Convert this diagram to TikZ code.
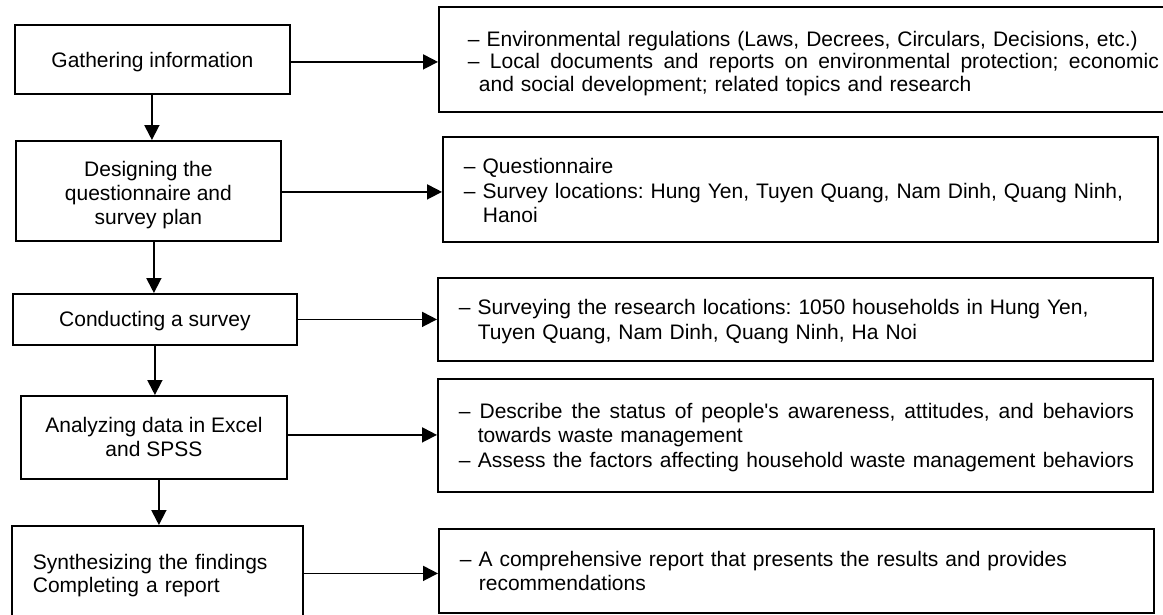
\documentclass[tikz,border=0pt]{standalone}
\usepackage{fontspec}
\setmainfont{Liberation Sans}
\usetikzlibrary{arrows.meta,calc}
\frenchspacing
\newcommand{\lift}[1]{\rule{0pt}{#1}}
\newcommand{\just}[2]{\makebox[#1][s]{\spaceskip=0.278em plus 1fil\relax #2}}
\begin{document}
\begin{tikzpicture}[x=1pt,y=-1pt,
  box/.style={draw, line width=1.8pt, inner sep=0pt, anchor=north west},
  stepbox/.style={box, align=center, font=\fontsize{21}{24}\selectfont\frenchspacing},
  infobox/.style={box, align=left, inner xsep=21pt, text width=673pt,
    minimum width=715pt, font=\fontsize{21}{24.5}\selectfont\frenchspacing},
  arr/.style={line width=1.8pt, -{Triangle[length=15pt,width=15pt]}}
]
\clip (0,0) rectangle (1163,614);
% left column
\node[stepbox, minimum width=275pt, minimum height=69pt] (b1) at (14,24) {\lift{21.3pt}Gathering information};
\node[stepbox, minimum width=265pt, minimum height=100pt] (b2) at (15,140) {\lift{23.3pt}Designing the\\questionnaire and\\survey plan};
\node[stepbox, minimum width=284pt, minimum height=51pt] (b3) at (12,293) {\lift{19.3pt}Conducting a survey};
\node[stepbox, minimum width=266pt, minimum height=83pt] (b4) at (20,395) {Analyzing data in Excel\\and SPSS};
\node[box, align=left, inner xsep=21pt, text width=249pt, minimum height=95pt,
  font=\fontsize{21}{23}\selectfont\frenchspacing] (b5) at (11,525) {\lift{19.3pt}Synthesizing the findings\\Completing a report};
% right column
\node[infobox, inner xsep=29pt, text width=670pt, minimum width=728pt, minimum height=105pt,
  font=\fontsize{21}{22.5}\selectfont\frenchspacing] (r1) at (438,6)
  {\lift{23.3pt}– Environmental regulations (Laws, Decrees, Circulars, Decisions, etc.)\\
   \just{691pt}{– Local documents and reports on environmental protection; economic}\\
   \hspace*{11pt}and social development; related topics and research};
\node[infobox, minimum height=105pt] (r2) at (442,136)
  {\lift{18pt}– Questionnaire\\
   – Survey locations: Hung Yen, Tuyen Quang, Nam Dinh, Quang Ninh,\\
   \hspace*{19pt}Hanoi};
\node[infobox, minimum height=83pt] (r3) at (437,277)
  {\lift{19.3pt}– Surveying the research locations: 1050 households in Hung Yen,\\
   \hspace*{19pt}Tuyen Quang, Nam Dinh, Quang Ninh, Ha Noi};
\node[infobox, minimum height=113pt] (r4) at (437,378)
  {\lift{19.3pt}\just{675pt}{– Describe the status of people\textquotesingle s awareness, attitudes, and behaviors}\\
   \hspace*{19pt}towards waste management\\
   \just{675pt}{– Assess the factors affecting household waste management behaviors}};
\node[infobox, minimum height=84pt] (r5) at (438,528)
  {– A comprehensive report that presents the results and provides\\
   \hspace*{19pt}recommendations};
% horizontal arrows
\coordinate (a1) at ([yshift=-2.5pt]b1.east);
\coordinate (a2) at ([yshift=-1pt]b2.east);
\coordinate (a3) at (b3.east);
\coordinate (a4) at ([yshift=2.5pt]b4.east);
\coordinate (a5) at (b5.east);
\draw[arr] (a1) -- (a1 -| r1.west);
\draw[arr] (a2) -- (a2 -| r2.west);
\draw[arr] (a3) -- (a3 -| r3.west);
\draw[arr] (a4) -- (a4 -| r4.west);
\draw[arr] (a5) -- (a5 -| r5.west);
% vertical arrows
\draw[arr] ([xshift=-0.5pt]b1.south) -- ([xshift=-0.5pt]b1.south |- b2.north);
\draw[arr] ([xshift=5.5pt]b2.south) -- ([xshift=5.5pt]b2.south |- b3.north);
\draw[arr] (b3.south) -- (b3.south |- b4.north);
\draw[arr] ([xshift=5pt]b4.south) -- ([xshift=5pt]b4.south |- b5.north);
\end{tikzpicture}
\end{document}
